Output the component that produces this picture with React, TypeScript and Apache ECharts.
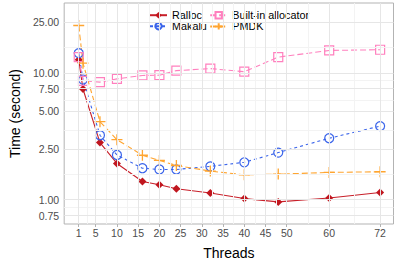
import React, { useEffect, useRef } from "react";
import * as echarts from "echarts";

const threads = [1, 2, 6, 10, 16, 20, 24, 32, 40, 48, 60, 72];
const ralloc = [12.7, 7.45, 2.82, 1.93, 1.39, 1.31, 1.22, 1.13, 1.02, 0.96, 1.03, 1.14];
const makalu = [14.3, 8.85, 3.22, 2.25, 1.77, 1.73, 1.73, 1.83, 1.97, 2.35, 3.05, 3.8];
const builtin = [13.3, 8.65, 8.45, 8.96, 9.53, 9.58, 10.4, 10.8, 10.2, 13.3, 15.0, 15.2];
const pmdk = [23.6, 11.9, 4.12, 2.97, 2.24, 2.04, 1.86, 1.68, 1.57, 1.59, 1.64, 1.66];

const xTicks = [1, 5, 10, 15, 20, 25, 30, 35, 40, 45, 50, 60, 72];
const yTicks = [0.75, 1, 2.5, 5, 7.5, 10, 25];

const FONT = "'Liberation Sans', Arial, Helvetica, sans-serif";

const mid = (a: number[], log: boolean) =>
  a.slice(1).map((v, i) => (log ? Math.sqrt(v * a[i]) : (v + a[i]) / 2));

export default function App() {
  const ref = useRef<HTMLDivElement>(null);
  useEffect(() => {
    if (!ref.current) return;
    const chart = echarts.init(ref.current, undefined, { renderer: "svg" });
    const pts = (ys: number[]) => threads.map((t, i) => [t, ys[i]]);
    const xMinor = mid(xTicks, false);
    const yMinor = mid(yTicks, true);
    const gl = (c: string) => ({ color: c, width: 1, type: "solid" as const });
    const markData: any[] = [
      ...xMinor.map((v) => ({ xAxis: v, lineStyle: gl("#F3F3F3") })),
      ...yMinor.map((v) => ({ yAxis: v, lineStyle: gl("#F3F3F3") })),
      ...xTicks.map((v) => ({ xAxis: v, lineStyle: gl("#E6E6E6") })),
      ...yTicks.map((v) => ({ yAxis: v, lineStyle: gl("#E6E6E6") })),
    ];
    const legendCommon = {
      orient: "vertical" as const,
      top: 4.7,
      itemWidth: 17,
      itemHeight: 8,
      itemGap: 0,
      backgroundColor: "#ffffff",
      textStyle: { fontFamily: FONT, fontSize: 10.8, color: "#000", lineHeight: 11 },
    };
    chart.setOption({
      animation: false,
      grid: {
        left: 61,
        right: 1.5,
        top: 3,
        bottom: 48,
        show: true,
        backgroundColor: "#fff",
        borderColor: "#B3B3B3",
        borderWidth: 1,
      },
      legend: [
        { ...legendCommon, left: 140, padding: [5, 3, 3, 9], data: ["Ralloc", "Makalu"] },
        { ...legendCommon, left: 209.2, padding: [5, 7, 3, 0], data: ["Built-in allocator", "PMDK"] },
      ],
      xAxis: {
        type: "value",
        min: -2.43,
        max: 75.15,
        name: "Threads",
        nameLocation: "middle",
        nameGap: 22,
        nameTextStyle: { fontFamily: FONT, fontSize: 14, color: "#000" },
        axisLine: { show: false },
        axisTick: { show: true, length: 3, customValues: xTicks, lineStyle: { color: "#B3B3B3" } },
        axisLabel: { customValues: xTicks, margin: 3, fontFamily: FONT, fontSize: 10.5, color: "#4D4D4D" },
        splitLine: { show: false },
      },
      yAxis: {
        type: "log",
        min: 0.643,
        max: 35.5,
        name: "Time (second)",
        nameLocation: "middle",
        nameGap: 38,
        nameTextStyle: { fontFamily: FONT, fontSize: 14, color: "#000" },
        axisLine: { show: false },
        axisTick: { show: true, length: 3, customValues: yTicks, lineStyle: { color: "#B3B3B3" } },
        axisLabel: {
          customValues: yTicks,
          margin: 5,
          fontFamily: FONT,
          fontSize: 10.5,
          color: "#4D4D4D",
          formatter: (v: number) => Number(v).toFixed(2),
        },
        splitLine: { show: false },
        minorSplitLine: { show: false },
      },
      series: [
        {
          name: "grid",
          type: "line",
          data: [],
          z: 1,
          silent: true,
          markLine: { silent: true, symbol: "none", label: { show: false }, data: markData, animation: false },
        },
        {
          name: "Ralloc",
          type: "line",
          z: 3,
          data: pts(ralloc),
          symbol: "diamond",
          symbolSize: 8,
          lineStyle: { color: "#C8202A", width: 1.1, type: "solid" },
          itemStyle: { color: "#C0161E" },
        },
        {
          name: "Makalu",
          type: "line",
          z: 3,
          data: pts(makalu),
          symbol: "circle",
          symbolSize: 9,
          lineStyle: { color: "#3A64EA", width: 1.1, type: [3, 3] },
          itemStyle: { color: "rgba(255,255,255,0)", borderColor: "#3A64EA", borderWidth: 1.2 },
        },
        {
          name: "Built-in allocator",
          type: "line",
          z: 3,
          data: pts(builtin),
          symbol: "rect",
          symbolSize: 9,
          lineStyle: { color: "#FF80BE", width: 1.1, type: [6, 3] },
          itemStyle: { color: "rgba(255,255,255,0)", borderColor: "#FF80BE", borderWidth: 1.2 },
        },
        {
          name: "PMDK",
          type: "line",
          z: 3,
          data: pts(pmdk),
          symbol: "path://M5,0L5,10M0,5L10,5",
          symbolSize: 11,
          lineStyle: { color: "#FFA530", width: 1.1, type: [6, 3] },
          itemStyle: { color: "none", borderColor: "#FFA530", borderWidth: 1.3 },
        },
      ],
    });
    return () => chart.dispose();
  }, []);
  return <div ref={ref} style={{ width: 395, height: 272, position: "absolute", left: 0, top: 0 }} />;
}
